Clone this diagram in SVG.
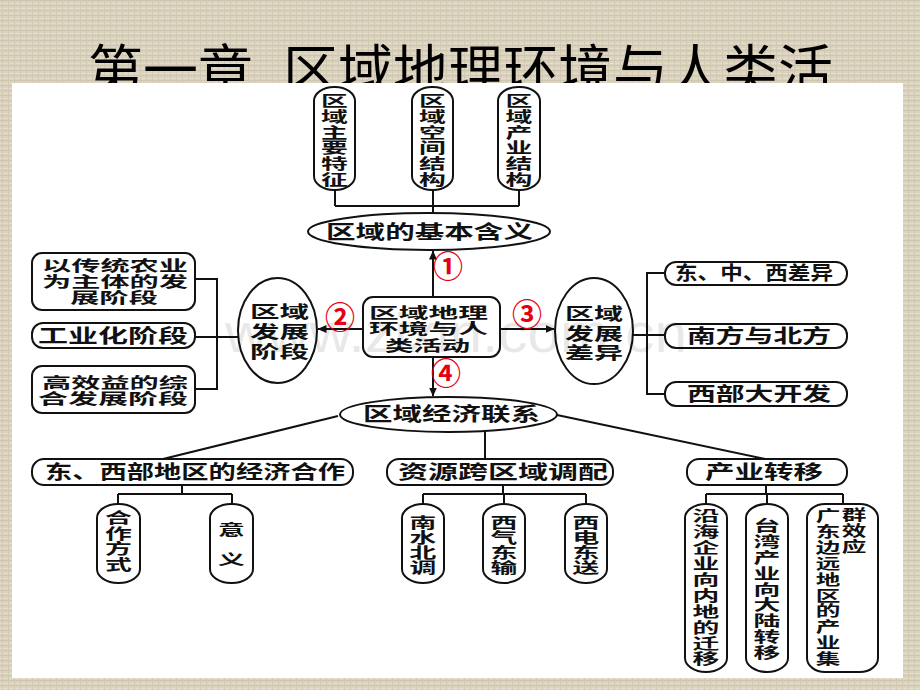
<svg xmlns="http://www.w3.org/2000/svg" width="920" height="690" viewBox="0 0 920 690">
<defs>
<pattern id="tex" width="6" height="5" patternUnits="userSpaceOnUse">
<rect width="6" height="5" fill="#dbd3bf"/>
<rect x="0" y="0" width="6" height="1" fill="#cfc6af"/>
<rect x="0" y="3" width="6" height="1" fill="#e4ddcb"/>
<rect x="2" y="0" width="1" height="5" fill="#d2c9b3"/>
</pattern>
<marker id="ah" markerWidth="9" markerHeight="8" refX="8.5" refY="4" orient="auto" markerUnits="userSpaceOnUse">
<path d="M0,0 L9,4 L0,8 z" fill="#111"/>
</marker>
<style>
.ln{stroke:#111;stroke-width:2;fill:none}
.ar{stroke:#111;stroke-width:2;fill:none;marker-end:url(#ah)}
.shp{fill:#fff;stroke:#111;stroke-width:2}
.t{font-family:"Liberation Sans","Noto Sans CJK SC","Noto Sans CJK JP",sans-serif;font-weight:700;fill:#111;dominant-baseline:central}
.h19{font-size:19px}
.h15{font-size:15px}
.h17{font-size:17px}
.v{font-family:"Liberation Sans","Noto Sans CJK SC","Noto Sans CJK JP",sans-serif;font-weight:700;fill:#111;font-size:14.5px;text-anchor:middle;dominant-baseline:central}
.red{font-family:"Noto Sans CJK SC","Noto Sans CJK JP",sans-serif;font-weight:700;fill:#e60012;font-size:30px;text-anchor:middle;dominant-baseline:central}
.title{font-family:"Noto Sans CJK SC","Noto Sans CJK JP",sans-serif;font-weight:400;fill:#000;font-size:55px}
</style>
</defs>
<rect width="920" height="690" fill="url(#tex)"/>
<text class="title" x="88" y="90">第一章<tspan x="283">区域地理环境与人类活</tspan></text>
<rect x="12" y="83" width="891" height="595" fill="#fff"/>

<g id="connectors">
<path class="ln" d="M335,190 V206 M519,190 V206 M335,206 H519 M433,190 V213"/>
<path class="ar" d="M433,297 V251"/>
<path class="ar" d="M363,329 H318"/>
<path class="ar" d="M500,329 H554"/>
<path class="ar" d="M433,357 V396"/>
<path class="ln" d="M195,279 H217 V389 H195 M195,337 H238"/>
<path class="ln" d="M665,273 H647 V394 H665 M633,335 H665"/>
<path class="ln" d="M338,416 L163,459 M485,432 V459 M557,415 L765,459"/>
<path class="ln" d="M182,485 V494 M118,494 H232 M118,494 V504 M232,494 V504"/>
<path class="ln" d="M503,485 V494 M423,494 H586 M423,494 V504 M504,494 V504 M586,494 V504"/>
<path class="ln" d="M766,485 V494 M706,494 H843 M706,494 V504 M767,494 V504 M843,494 V504"/>
</g>

<g id="n-tezheng">
<rect class="shp" x="314" y="87" width="41" height="103" rx="20" ry="14"/>
<text class="v" transform="translate(334.5,0) scale(1.85,1)"><tspan x="0" y="101">区</tspan><tspan x="0" y="116.7">域</tspan><tspan x="0" y="132.4">主</tspan><tspan x="0" y="148.1">要</tspan><tspan x="0" y="163.8">特</tspan><tspan x="0" y="179.5">征</tspan></text>
</g>
<g id="n-kongjian">
<rect class="shp" x="412" y="87" width="41" height="103" rx="20" ry="14"/>
<text class="v" transform="translate(432.5,0) scale(1.85,1)"><tspan x="0" y="101">区</tspan><tspan x="0" y="116.7">域</tspan><tspan x="0" y="132.4">空</tspan><tspan x="0" y="148.1">间</tspan><tspan x="0" y="163.8">结</tspan><tspan x="0" y="179.5">构</tspan></text>
</g>
<g id="n-chanye">
<rect class="shp" x="498" y="87" width="42" height="103" rx="20" ry="14"/>
<text class="v" transform="translate(519,0) scale(1.85,1)"><tspan x="0" y="101">区</tspan><tspan x="0" y="116.7">域</tspan><tspan x="0" y="132.4">产</tspan><tspan x="0" y="148.1">业</tspan><tspan x="0" y="163.8">结</tspan><tspan x="0" y="179.5">构</tspan></text>
</g>
<g id="n-hanyi">
<ellipse class="shp" cx="429" cy="231.5" rx="121" ry="18.5"/>
<text class="t h19" x="326" y="232" textLength="207" lengthAdjust="spacingAndGlyphs">区域的基本含义</text>
</g>

<g id="n-center">
<rect class="shp" x="363" y="297" width="137" height="60" rx="10"/>
<text class="t h15" x="369" y="312" textLength="119" lengthAdjust="spacingAndGlyphs">区域地理</text>
<text class="t h15" x="369" y="328.5" textLength="119" lengthAdjust="spacingAndGlyphs">环境与人</text>
<text class="t h15" x="385" y="345" textLength="85" lengthAdjust="spacingAndGlyphs">类活动</text>
</g>

<g id="n-fazhan">
<ellipse class="shp" cx="277.5" cy="330.5" rx="39.5" ry="52.5"/>
<text class="t h17" x="250" y="312" textLength="59" lengthAdjust="spacingAndGlyphs">区域</text>
<text class="t h17" x="250" y="332" textLength="59" lengthAdjust="spacingAndGlyphs">发展</text>
<text class="t h17" x="250" y="352" textLength="59" lengthAdjust="spacingAndGlyphs">阶段</text>
</g>
<g id="n-chayi">
<ellipse class="shp" cx="594" cy="331" rx="39" ry="53"/>
<text class="t h17" x="565" y="314" textLength="58" lengthAdjust="spacingAndGlyphs">区域</text>
<text class="t h17" x="565" y="334" textLength="58" lengthAdjust="spacingAndGlyphs">发展</text>
<text class="t h17" x="565" y="353" textLength="58" lengthAdjust="spacingAndGlyphs">差异</text>
</g>

<g id="n-nongye">
<rect class="shp" x="32" y="253" width="163" height="57" rx="10"/>
<text class="t h15" x="42" y="265" textLength="146" lengthAdjust="spacingAndGlyphs">以传统农业</text>
<text class="t h15" x="42" y="281.5" textLength="146" lengthAdjust="spacingAndGlyphs">为主体的发</text>
<text class="t h15" x="70" y="297.5" textLength="88" lengthAdjust="spacingAndGlyphs">展阶段</text>
</g>
<g id="n-gongye">
<rect class="shp" x="32" y="323" width="163" height="25" rx="11"/>
<text class="t h19" x="38" y="336" textLength="150" lengthAdjust="spacingAndGlyphs">工业化阶段</text>
</g>
<g id="n-gaoxiao">
<rect class="shp" x="32" y="366" width="163" height="47" rx="10"/>
<text class="t h15" x="42" y="382.5" textLength="146" lengthAdjust="spacingAndGlyphs">高效益的综</text>
<text class="t h15" x="38" y="398.5" textLength="150" lengthAdjust="spacingAndGlyphs">合发展阶段</text>
</g>

<g id="n-dongzhongxi">
<rect class="shp" x="665" y="262" width="182" height="23" rx="11"/>
<text class="t h19" x="675" y="273.5" textLength="158" lengthAdjust="spacingAndGlyphs">东、中、西差异</text>
</g>
<g id="n-nanbei">
<rect class="shp" x="665" y="324" width="182" height="24" rx="11"/>
<text class="t h19" x="687" y="336" textLength="144" lengthAdjust="spacingAndGlyphs">南方与北方</text>
</g>
<g id="n-xibu">
<rect class="shp" x="665" y="382" width="182" height="24" rx="11"/>
<text class="t h19" x="687" y="394" textLength="144" lengthAdjust="spacingAndGlyphs">西部大开发</text>
</g>

<g id="n-lianxi">
<ellipse class="shp" cx="448.5" cy="414.5" rx="108.5" ry="17.5"/>
<text class="t h19" x="363" y="414" textLength="177" lengthAdjust="spacingAndGlyphs">区域经济联系</text>
</g>

<g id="n-hezuo">
<rect class="shp" x="32" y="459" width="321" height="26" rx="12"/>
<text class="t h19" x="45" y="472" textLength="300" lengthAdjust="spacingAndGlyphs">东、西部地区的经济合作</text>
</g>
<g id="n-ziyuan">
<rect class="shp" x="387" y="459" width="226" height="26" rx="12"/>
<text class="t h19" x="398" y="472" textLength="210" lengthAdjust="spacingAndGlyphs">资源跨区域调配</text>
</g>
<g id="n-zhuanyi">
<rect class="shp" x="687" y="459" width="160" height="26" rx="12"/>
<text class="t h19" x="705" y="472" textLength="118" lengthAdjust="spacingAndGlyphs">产业转移</text>
</g>

<g id="n-fangshi">
<rect class="shp" x="97" y="504" width="43" height="79" rx="21" ry="14"/>
<text class="v" transform="translate(118.5,0) scale(1.85,1)"><tspan x="0" y="518">合</tspan><tspan x="0" y="533.5">作</tspan><tspan x="0" y="549">方</tspan><tspan x="0" y="564.5">式</tspan></text>
</g>
<g id="n-yiyi">
<rect class="shp" x="210" y="504" width="43" height="79" rx="21" ry="14"/>
<text class="v" transform="translate(231.5,0) scale(1.85,1)"><tspan x="0" y="530">意</tspan><tspan x="0" y="560">义</tspan></text>
</g>
<g id="n-nanshui">
<rect class="shp" x="402" y="504" width="42" height="79" rx="21" ry="14"/>
<text class="v" transform="translate(423,0) scale(1.85,1)"><tspan x="0" y="522.5">南</tspan><tspan x="0" y="537.5">水</tspan><tspan x="0" y="552.5">北</tspan><tspan x="0" y="567.5">调</tspan></text>
</g>
<g id="n-xiqi">
<rect class="shp" x="483" y="504" width="42" height="79" rx="21" ry="14"/>
<text class="v" transform="translate(504,0) scale(1.85,1)"><tspan x="0" y="522.5">西</tspan><tspan x="0" y="537.5">气</tspan><tspan x="0" y="552.5">东</tspan><tspan x="0" y="567.5">输</tspan></text>
</g>
<g id="n-xidian">
<rect class="shp" x="565" y="504" width="42" height="79" rx="21" ry="14"/>
<text class="v" transform="translate(586,0) scale(1.85,1)"><tspan x="0" y="522.5">西</tspan><tspan x="0" y="537.5">电</tspan><tspan x="0" y="552.5">东</tspan><tspan x="0" y="567.5">送</tspan></text>
</g>
<g id="n-yanhai">
<rect class="shp" x="685" y="504" width="42" height="168" rx="21" ry="14"/>
<text class="v" transform="translate(706,0) scale(1.85,1)"><tspan x="0" y="516">沿</tspan><tspan x="0" y="531.9">海</tspan><tspan x="0" y="547.8">企</tspan><tspan x="0" y="563.7">业</tspan><tspan x="0" y="579.6">向</tspan><tspan x="0" y="595.5">内</tspan><tspan x="0" y="611.4">地</tspan><tspan x="0" y="627.3">的</tspan><tspan x="0" y="643.2">迁</tspan><tspan x="0" y="659.1">移</tspan></text>
</g>
<g id="n-taiwan">
<rect class="shp" x="746" y="504" width="42" height="168" rx="21" ry="14"/>
<text class="v" transform="translate(767,0) scale(1.85,1)"><tspan x="0" y="526">台</tspan><tspan x="0" y="541.8">湾</tspan><tspan x="0" y="557.6">产</tspan><tspan x="0" y="573.4">业</tspan><tspan x="0" y="589.2">向</tspan><tspan x="0" y="605">大</tspan><tspan x="0" y="620.8">陆</tspan><tspan x="0" y="636.6">转</tspan><tspan x="0" y="652.4">移</tspan></text>
</g>
<g id="n-guangdong">
<rect class="shp" x="807" y="504" width="71" height="168" rx="18" ry="14"/>
<text class="v" transform="translate(828,0) scale(1.7,1)"><tspan x="0" y="516">广</tspan><tspan x="0" y="531.9">东</tspan><tspan x="0" y="547.8">边</tspan><tspan x="0" y="563.7">远</tspan><tspan x="0" y="579.6">地</tspan><tspan x="0" y="595.5">区</tspan><tspan x="0" y="611.4">的</tspan><tspan x="0" y="627.3">产</tspan><tspan x="0" y="643.2">业</tspan><tspan x="0" y="659.1">集</tspan></text>
<text class="v" transform="translate(854,0) scale(1.7,1)"><tspan x="0" y="515">群</tspan><tspan x="0" y="531">效</tspan><tspan x="0" y="547">应</tspan></text>
</g>

<g id="labels">
<text class="red" x="448" y="264">①</text>
<text class="red" x="340" y="315">②</text>
<text class="red" x="527" y="312">③</text>
<text class="red" x="446" y="371">④</text>
</g>

<text x="225" y="352" font-family="Liberation Sans, sans-serif" font-size="56" fill="#000" fill-opacity="0.09" textLength="462" lengthAdjust="spacingAndGlyphs">www.zixin.com.cn</text>
</svg>
